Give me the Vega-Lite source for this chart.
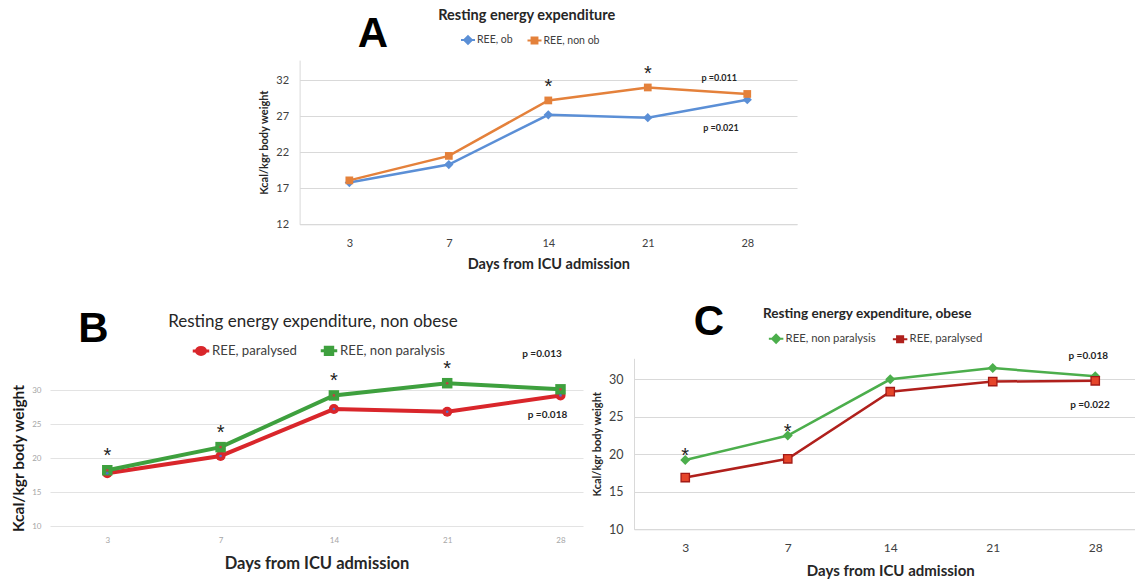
{
  "$schema": "https://vega.github.io/schema/vega-lite/v6.json",
  "width": 1135,
  "height": 581,
  "autosize": {"type": "none"},
  "padding": 0,
  "background": "white",
  "config": {"view": {"stroke": null}, "font": "Lato", "axis": {"ticks": false, "tickSize": 0}},
  "resolve": {
    "scale": {"x": "independent", "y": "independent", "color": "independent"},
    "axis": {"x": "independent", "y": "independent"},
    "legend": {"color": "independent"}
  },
  "layer": [
    {
      "data": {"values": [
        {"day": 3, "series": "REE, ob", "ree": 17.8},
        {"day": 7, "series": "REE, ob", "ree": 20.3},
        {"day": 14, "series": "REE, ob", "ree": 27.2},
        {"day": 21, "series": "REE, ob", "ree": 26.8},
        {"day": 28, "series": "REE, ob", "ree": 29.3, "p": "p =0.021"},
        {"day": 3, "series": "REE, non ob", "ree": 18.1},
        {"day": 7, "series": "REE, non ob", "ree": 21.5},
        {"day": 14, "series": "REE, non ob", "ree": 29.2, "sig": "*"},
        {"day": 21, "series": "REE, non ob", "ree": 31.0, "sig": "*"},
        {"day": 28, "series": "REE, non ob", "ree": 30.1, "p": "p =0.011"}
      ]},
      "encoding": {
        "x": {"field": "day", "type": "ordinal",
          "scale": {"type": "point", "domain": [3, 7, 14, 21, 28], "range": [299.6, 797], "padding": 0.5},
          "axis": {"orient": "bottom", "offset": -356.7, "title": "Days from ICU admission", "labelAngle": 0, "labelFontSize": 11, "labelColor": "#404040", "labelPadding": 13.5, "domainColor": "#d9d9d9", "titleFontSize": 14.5, "titleFontWeight": "bold", "titleColor": "#262626", "titlePadding": 9, "grid": false}},
        "y": {"field": "ree", "type": "quantitative",
          "scale": {"domain": [12, 34.8], "range": [224.3, 60.1], "zero": false, "nice": false},
          "axis": {"orient": "left", "offset": -299.6, "values": [12, 17, 22, 27, 32], "title": "Kcal/kgr body weight", "grid": true, "gridColor": "#d9d9d9", "domainColor": "#d9d9d9", "labelFontSize": 11, "labelColor": "#404040", "labelPadding": 11, "titleFontSize": 11, "titleFontWeight": "bold", "titleColor": "#262626", "titlePadding": 6}},
        "color": {"field": "series", "type": "nominal",
          "scale": {"domain": ["REE, ob", "REE, non ob"], "range": ["#5b8fd6", "#e4813b"]},
          "legend": {"orient": "none", "legendX": 460, "legendY": 32, "direction": "horizontal", "title": null, "labelFontSize": 10.5, "labelColor": "#404040", "symbolSize": 196, "symbolStrokeWidth": 2, "labelOffset": 1, "columnPadding": 10.5,
            "encode": {"symbols": {"update": {
              "shape": {"signal": "datum.value === 'REE, ob' ? 'M-1,0H1M0,-0.55L0.55,0L0,0.55L-0.55,0Z' : 'M-1,0H1M-0.42,-0.42H0.42V0.42H-0.42Z'"},
              "fill": {"signal": "datum.value === 'REE, ob' ? '#5b8fd6' : '#e4813b'"},
              "stroke": {"signal": "datum.value === 'REE, ob' ? '#5b8fd6' : '#e4813b'"},
              "strokeWidth": {"value": 2},
              "opacity": {"value": 1}}}}}}
      },
      "layer": [
        {"mark": {"type": "line", "strokeWidth": 2.5}},
        {"transform": [{"filter": "datum.series === 'REE, ob'"}],
          "mark": {"type": "point", "filled": true, "opacity": 1, "shape": "diamond", "size": 85}},
        {"transform": [{"filter": "datum.series === 'REE, non ob'"}],
          "mark": {"type": "point", "filled": true, "opacity": 1, "shape": "square", "size": 60}},
        {"transform": [{"filter": "datum.sig"}],
          "mark": {"type": "text", "font": "Liberation Sans", "fontSize": 20, "dy": -13, "baseline": "middle"},
          "encoding": {"text": {"field": "sig"}, "color": {"value": "#222222"}}},
        {"transform": [{"filter": "datum.p && datum.series === 'REE, non ob'"}],
          "mark": {"type": "text", "fontSize": 9, "fontWeight": "bold", "dx": -28, "dy": -16.3, "baseline": "middle"},
          "encoding": {"text": {"field": "p"}, "color": {"value": "#262626"}}},
        {"transform": [{"filter": "datum.p && datum.series === 'REE, ob'"}],
          "mark": {"type": "text", "fontSize": 9, "fontWeight": "bold", "dx": -26.3, "dy": 28.3, "baseline": "middle"},
          "encoding": {"text": {"field": "p"}, "color": {"value": "#262626"}}},
        {"transform": [{"filter": "datum.day === 14 && datum.series === 'REE, non ob'"}],
          "mark": {"type": "text", "fontSize": 14.5, "fontWeight": "bold", "dx": -21.6, "dy": -84.7, "baseline": "middle", "align": "center"},
          "encoding": {"text": {"value": "Resting energy expenditure"}, "color": {"value": "#262626"}}},
        {"transform": [{"filter": "datum.day === 3 && datum.series === 'REE, non ob'"}],
          "mark": {"type": "text", "font": "Liberation Sans", "fontSize": 42, "fontWeight": "bold", "dx": 23.7, "dy": -133.4, "baseline": "alphabetic", "align": "center"},
          "encoding": {"text": {"value": "A"}, "color": {"value": "#000000"}}}
      ]
    },
    {
      "data": {"values": [
        {"day": 3, "series": "REE, paralysed", "ree": 17.75},
        {"day": 7, "series": "REE, paralysed", "ree": 20.3},
        {"day": 14, "series": "REE, paralysed", "ree": 27.2},
        {"day": 21, "series": "REE, paralysed", "ree": 26.8},
        {"day": 28, "series": "REE, paralysed", "ree": 29.2, "p": "p =0.018"},
        {"day": 3, "series": "REE, non paralysis", "ree": 18.2, "sig": "*"},
        {"day": 7, "series": "REE, non paralysis", "ree": 21.6, "sig": "*"},
        {"day": 14, "series": "REE, non paralysis", "ree": 29.2, "sig": "*"},
        {"day": 21, "series": "REE, non paralysis", "ree": 31.0, "sig": "*"},
        {"day": 28, "series": "REE, non paralysis", "ree": 30.1, "p": "p =0.013"}
      ]},
      "encoding": {
        "x": {"field": "day", "type": "ordinal",
          "scale": {"type": "point", "domain": [3, 7, 14, 21, 28], "range": [50, 583], "padding": 0.352, "align": 0.718},
          "axis": {"orient": "bottom", "offset": -55, "title": "Days from ICU admission", "labelAngle": 0, "labelFontSize": 8, "labelColor": "#a6a6a6", "labelPadding": 10, "domain": false, "titleFontSize": 16.5, "titleFontWeight": "bold", "titleColor": "#262626", "titlePadding": 11, "grid": false}},
        "y": {"field": "ree", "type": "quantitative",
          "scale": {"domain": [10, 30], "range": [526, 390], "zero": false, "nice": false},
          "axis": {"orient": "left", "offset": -50, "values": [10, 15, 20, 25, 30], "title": "Kcal/kgr body weight", "grid": true, "gridColor": "#e3e3e3", "domain": false, "labelFontSize": 8, "labelColor": "#a6a6a6", "labelPadding": 9, "titleFontSize": 15.5, "titleFontWeight": "bold", "titleColor": "#1a1a1a", "titlePadding": 5}},
        "color": {"field": "series", "type": "nominal",
          "scale": {"domain": ["REE, paralysed", "REE, non paralysis"], "range": ["#d9262b", "#3ea03e"]},
          "legend": {"orient": "none", "legendX": 191, "legendY": 340.7, "direction": "horizontal", "title": null, "labelFontSize": 13.2, "labelColor": "#404040", "symbolSize": 272, "symbolStrokeWidth": 3, "labelOffset": 1, "columnPadding": 17,
            "encode": {"symbols": {"update": {
              "shape": {"signal": "datum.value === 'REE, paralysed' ? 'M-1,0H1M-0.55,0A0.55,0.42,0,1,0,0.55,0A0.55,0.42,0,1,0,-0.55,0Z' : 'M-1,0H1M-0.45,-0.45H0.45V0.45H-0.45Z'"},
              "fill": {"signal": "datum.value === 'REE, paralysed' ? '#d9262b' : '#3ea03e'"},
              "stroke": {"signal": "datum.value === 'REE, paralysed' ? '#d9262b' : '#3ea03e'"},
              "strokeWidth": {"value": 3},
              "opacity": {"value": 1}}}}}}
      },
      "layer": [
        {"mark": {"type": "line", "strokeWidth": 4}},
        {"transform": [{"filter": "datum.series === 'REE, paralysed'"}],
          "mark": {"type": "point", "filled": true, "opacity": 1, "shape": "circle", "size": 100}},
        {"transform": [{"filter": "datum.series === 'REE, non paralysis'"}],
          "mark": {"type": "point", "filled": true, "opacity": 1, "shape": "square", "size": 110}},
        {"mark": {"type": "point", "filled": true, "opacity": 1, "shape": "circle", "size": 7},
          "encoding": {"color": {"condition": {"test": "datum.series === 'REE, paralysed'", "value": "#4f6fd0"}, "value": "#c04040"}}},
        {"transform": [{"filter": "datum.sig"}],
          "mark": {"type": "text", "font": "Liberation Sans", "fontSize": 20, "dy": -14, "baseline": "middle"},
          "encoding": {"text": {"field": "sig"}, "color": {"value": "#222222"}}},
        {"transform": [{"filter": "datum.p && datum.series === 'REE, non paralysis'"}],
          "mark": {"type": "text", "fontSize": 10, "fontWeight": "bold", "dx": -18.5, "dy": -35, "baseline": "middle"},
          "encoding": {"text": {"field": "p"}, "color": {"value": "#262626"}}},
        {"transform": [{"filter": "datum.p && datum.series === 'REE, paralysed'"}],
          "mark": {"type": "text", "fontSize": 10, "fontWeight": "bold", "dx": -13, "dy": 19.3, "baseline": "middle"},
          "encoding": {"text": {"field": "p"}, "color": {"value": "#262626"}}},
        {"transform": [{"filter": "datum.day === 14 && datum.series === 'REE, non paralysis'"}],
          "mark": {"type": "text", "fontSize": 17, "dx": -21, "dy": -73.7, "baseline": "middle", "align": "center"},
          "encoding": {"text": {"value": "Resting energy expenditure, non obese"}, "color": {"value": "#262626"}}},
        {"transform": [{"filter": "datum.day === 3 && datum.series === 'REE, non paralysis'"}],
          "mark": {"type": "text", "font": "Liberation Sans", "fontSize": 42, "fontWeight": "bold", "dx": -13.9, "dy": -128.5, "baseline": "alphabetic", "align": "center"},
          "encoding": {"text": {"value": "B"}, "color": {"value": "#000000"}}}
      ]
    },
    {
      "data": {"values": [
        {"day": 3, "series": "REE, non paralysis", "ree": 19.25, "sig": "*"},
        {"day": 7, "series": "REE, non paralysis", "ree": 22.5, "sig": "*"},
        {"day": 14, "series": "REE, non paralysis", "ree": 30.0},
        {"day": 21, "series": "REE, non paralysis", "ree": 31.5},
        {"day": 28, "series": "REE, non paralysis", "ree": 30.4, "p": "p =0.018"},
        {"day": 3, "series": "REE, paralysed", "ree": 16.9},
        {"day": 7, "series": "REE, paralysed", "ree": 19.4},
        {"day": 14, "series": "REE, paralysed", "ree": 28.35},
        {"day": 21, "series": "REE, paralysed", "ree": 29.7},
        {"day": 28, "series": "REE, paralysed", "ree": 29.8, "p": "p =0.022"}
      ]},
      "encoding": {
        "x": {"field": "day", "type": "ordinal",
          "scale": {"type": "point", "domain": [3, 7, 14, 21, 28], "range": [634, 1146.5], "padding": 0.5},
          "axis": {"orient": "bottom", "offset": -51.7, "title": "Days from ICU admission", "labelAngle": 0, "labelFontSize": 12, "labelColor": "#404040", "labelPadding": 13, "domainColor": "#d9d9d9", "titleFontSize": 15, "titleFontWeight": "bold", "titleColor": "#262626", "titlePadding": 9.7, "grid": false}},
        "y": {"field": "ree", "type": "quantitative",
          "scale": {"domain": [10, 32.8], "range": [529.3, 358.3], "zero": false, "nice": false},
          "axis": {"orient": "left", "offset": -634, "values": [10, 15, 20, 25, 30], "title": "Kcal/kgr body weight", "grid": true, "gridColor": "#d9d9d9", "domainColor": "#d9d9d9", "labelFontSize": 12.5, "labelColor": "#404040", "labelPadding": 11, "titleFontSize": 11, "titleFontWeight": "bold", "titleColor": "#262626", "titlePadding": 6.5}},
        "color": {"field": "series", "type": "nominal",
          "scale": {"domain": ["REE, non paralysis", "REE, paralysed"], "range": ["#4cae4c", "#b0201c"]},
          "legend": {"orient": "none", "legendX": 767.6, "legendY": 330, "direction": "horizontal", "title": null, "labelFontSize": 11.3, "labelColor": "#404040", "symbolSize": 210, "symbolStrokeWidth": 2, "labelOffset": 1, "columnPadding": 13,
            "encode": {"symbols": {"update": {
              "shape": {"signal": "datum.value === 'REE, non paralysis' ? 'M-1,0H1M0,-0.55L0.55,0L0,0.55L-0.55,0Z' : 'M-1,0H1M-0.42,-0.42H0.42V0.42H-0.42Z'"},
              "fill": {"signal": "datum.value === 'REE, non paralysis' ? '#4cae4c' : '#e5452a'"},
              "stroke": {"signal": "datum.value === 'REE, non paralysis' ? '#4cae4c' : '#b3201b'"},
              "strokeWidth": {"value": 2},
              "opacity": {"value": 1}}}}}}
      },
      "layer": [
        {"mark": {"type": "line", "strokeWidth": 2.5}},
        {"transform": [{"filter": "datum.series === 'REE, non paralysis'"}],
          "mark": {"type": "point", "filled": true, "opacity": 1, "shape": "diamond", "size": 100}},
        {"transform": [{"filter": "datum.series === 'REE, paralysed'"}],
          "mark": {"type": "point", "filled": true, "opacity": 1, "shape": "square", "size": 70, "strokeWidth": 1.3},
          "encoding": {"fill": {"value": "#e5452a"}, "stroke": {"value": "#a31a16"}}},
        {"transform": [{"filter": "datum.sig"}],
          "mark": {"type": "text", "font": "Liberation Sans", "fontSize": 20, "dy": -4, "baseline": "middle"},
          "encoding": {"text": {"field": "sig"}, "color": {"value": "#222222"}}},
        {"transform": [{"filter": "datum.p && datum.series === 'REE, non paralysis'"}],
          "mark": {"type": "text", "fontSize": 10, "fontWeight": "bold", "dx": -7, "dy": -20.6, "baseline": "middle"},
          "encoding": {"text": {"field": "p"}, "color": {"value": "#262626"}}},
        {"transform": [{"filter": "datum.p && datum.series === 'REE, paralysed'"}],
          "mark": {"type": "text", "fontSize": 10, "fontWeight": "bold", "dx": -5.3, "dy": 24.2, "baseline": "middle"},
          "encoding": {"text": {"field": "p"}, "color": {"value": "#262626"}}},
        {"transform": [{"filter": "datum.day === 14 && datum.series === 'REE, non paralysis'"}],
          "mark": {"type": "text", "fontSize": 13.6, "fontWeight": "bold", "dx": -23, "dy": -65.3, "baseline": "middle", "align": "center"},
          "encoding": {"text": {"value": "Resting energy expenditure, obese"}, "color": {"value": "#262626"}}},
        {"transform": [{"filter": "datum.day === 3 && datum.series === 'REE, non paralysis'"}],
          "mark": {"type": "text", "font": "Liberation Sans", "fontSize": 42, "fontWeight": "bold", "dx": 23.6, "dy": -124.9, "baseline": "alphabetic", "align": "center"},
          "encoding": {"text": {"value": "C"}, "color": {"value": "#000000"}}}
      ]
    }
  ]
}
